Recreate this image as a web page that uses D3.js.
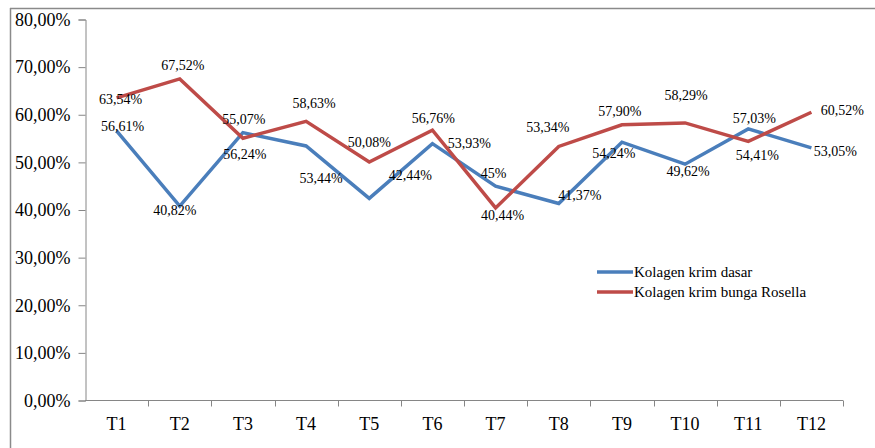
<!DOCTYPE html>
<html>
<head>
<meta charset="utf-8">
<script src="https://cdn.jsdelivr.net/npm/d3@7"></script>
<style>
  html, body { margin: 0; padding: 0; background: #fff; }
  svg { display: block; }
  svg text { font-family: "Liberation Serif", "Times New Roman", serif !important; fill: #000; }
</style>
</head>
<body>
<svg id="chart" width="875" height="448"></svg>
<script>
// ---- Data ----
const categories = ["T1","T2","T3","T4","T5","T6","T7","T8","T9","T10","T11","T12"];
const seriesNames = ["Kolagen krim dasar", "Kolagen krim bunga Rosella"];
const dasarValues = [56.61, 40.82, 56.24, 53.44, 42.44, 53.93, 45, 41.37, 54.24, 49.62, 57.03, 53.05];
const rosellaValues = [63.54, 67.52, 55.07, 58.63, 50.08, 56.76, 40.44, 53.34, 57.90, 58.29, 54.41, 60.52];
const dasarLabels = ["56,61%","40,82%","56,24%","53,44%","42,44%","53,93%","45%","41,37%","54,24%","49,62%","57,03%","53,05%"];
const rosellaLabels = ["63,54%","67,52%","55,07%","58,63%","50,08%","56,76%","40,44%","53,34%","57,90%","58,29%","54,41%","60,52%"];
const yTicks = [0, 10, 20, 30, 40, 50, 60, 70, 80];
const yTickLabels = ["0,00%","10,00%","20,00%","30,00%","40,00%","50,00%","60,00%","70,00%","80,00%"];

// ---- Layout (label placement offsets, relative to each point) ----
const dasarLabelOffsets = [[6,0],[-5,9],[2,26],[15,37],[41,-18],[37,4],[-2,-8],[21,-3],[-8,16],[3,12],[6,-6],[24,8]];
const rosellaLabelOffsets = [[4,6],[3,-9],[1,-14],[8,-13],[0,-15],[1,-7],[7,12],[-11,-14],[-2,-9],[1,-23],[9,19],[31,3]];

const colors = ["#4a7ebb", "#be4b48"];
const FONT = '"Liberation Serif", "Times New Roman", serif';
const svg = d3.select("#chart");

// chart area border (top and left)
svg.append("line").attr("x1", 10).attr("x2", 875).attr("y1", 8.5).attr("y2", 8.5)
  .attr("stroke", "#8a8a8a").attr("stroke-width", 1.5);
svg.append("line").attr("x1", 10.5).attr("x2", 10.5).attr("y1", 8).attr("y2", 448)
  .attr("stroke", "#8a8a8a").attr("stroke-width", 1.5);

const x = d3.scaleBand().domain(categories).range([85, 843]);
const y = d3.scaleLinear().domain([0, 80]).range([400.5, 19.5]);
const cx = d => x(d) + x.bandwidth() / 2;

// Y axis
const yAxis = d3.axisLeft(y).tickValues(yTicks).tickSize(7).tickPadding(8)
  .tickFormat((d, i) => yTickLabels[i]);
const gy = svg.append("g").attr("transform", "translate(85.5,0)").call(yAxis)
  .attr("font-family", null).attr("font-size", null);
gy.select(".domain").attr("stroke", "#868686");
gy.selectAll(".tick line").attr("stroke", "#868686");
gy.selectAll(".tick text").style("font-size", "18px").style("font-family", FONT).attr("fill", "#000");

// X axis
const gx = svg.append("g").attr("transform", "translate(0,400.5)");
gx.append("line").attr("x1", 85).attr("x2", 843).attr("y1", 0).attr("y2", 0).attr("stroke", "#868686");
const bounds = categories.map(c => x(c)).concat([x(categories[categories.length-1]) + x.bandwidth()]);
gx.selectAll("line.tk").data(bounds.slice(1)).enter().append("line").attr("class", "tk")
  .attr("x1", d => Math.round(d) + 0.5).attr("x2", d => Math.round(d) + 0.5)
  .attr("y1", 0).attr("y2", 6).attr("stroke", "#868686");
gx.selectAll("text").data(categories).enter().append("text")
  .attr("x", d => cx(d)).attr("y", 29).attr("text-anchor", "middle")
  .style("font-size", "18px").style("font-family", FONT).text(d => d);

// Lines
const line = d3.line().x((d, i) => cx(categories[i])).y(d => y(d));
[dasarValues, rosellaValues].forEach((vals, si) => {
  svg.append("path").datum(vals).attr("d", line)
    .attr("fill", "none").attr("stroke", colors[si]).attr("stroke-width", 3.5)
    .attr("stroke-linejoin", "miter");
});

// Data labels
function addLabels(vals, labels, offs) {
  svg.append("g").selectAll("text").data(vals).enter().append("text")
    .attr("x", (d, i) => cx(categories[i]) + offs[i][0])
    .attr("y", (d, i) => y(d) + offs[i][1])
    .attr("text-anchor", "middle").style("font-size", "14px").style("font-family", FONT)
    .text((d, i) => labels[i]);
}
addLabels(dasarValues, dasarLabels, dasarLabelOffsets);
addLabels(rosellaValues, rosellaLabels, rosellaLabelOffsets);

// Legend
const lg = svg.append("g");
seriesNames.forEach((name, i) => {
  const yy = 272 + i * 20;
  lg.append("line").attr("x1", 597).attr("x2", 633).attr("y1", yy).attr("y2", yy)
    .attr("stroke", colors[i]).attr("stroke-width", 3.5);
  lg.append("text").attr("x", 634).attr("y", yy).attr("dy", "0.35em")
    .style("font-size", "15px").style("font-family", FONT).text(name);
});
</script>
</body>
</html>
